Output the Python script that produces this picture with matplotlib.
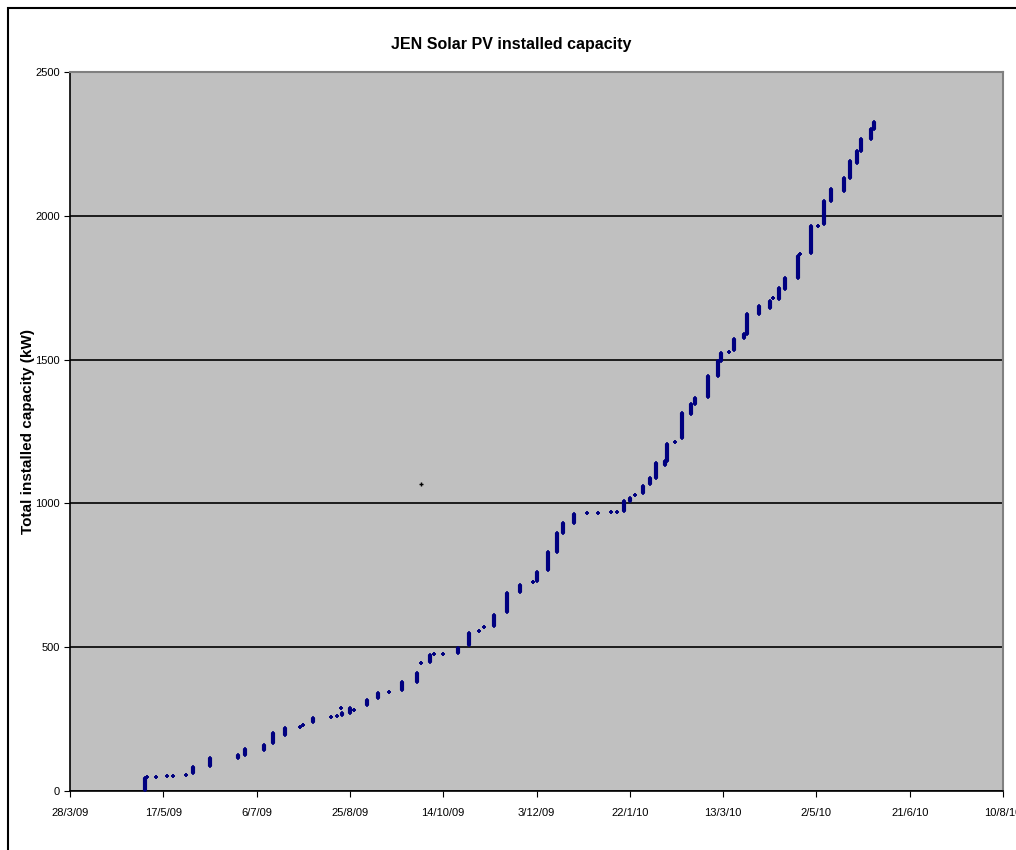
"""JEN Solar PV installed capacity - cumulative kW per installation date."""

import numpy as np
import pandas as pd
import matplotlib
matplotlib.use("Agg")
import matplotlib.pyplot as plt
from matplotlib.patches import Rectangle

# installation dates, with the low and high cumulative capacity (kW)
# reached on each date (several systems connected on the same day)
inst_dates = [
    "2009-05-07", "2009-05-08", "2009-05-13", "2009-05-19", "2009-05-22",
    "2009-05-29", "2009-06-02", "2009-06-11", "2009-06-26", "2009-06-30",
    "2009-07-10", "2009-07-15", "2009-07-21", "2009-07-29", "2009-07-31",
    "2009-08-05", "2009-08-15", "2009-08-18", "2009-08-20", "2009-08-21",
    "2009-08-25", "2009-08-27", "2009-09-03", "2009-09-09", "2009-09-15",
    "2009-09-22", "2009-09-30", "2009-10-02", "2009-10-07", "2009-10-09",
    "2009-10-14", "2009-10-22", "2009-10-28", "2009-11-02", "2009-11-05",
    "2009-11-10", "2009-11-17", "2009-11-24", "2009-12-01", "2009-12-03",
    "2009-12-09", "2009-12-14", "2009-12-17", "2009-12-23", "2009-12-30",
    "2010-01-05", "2010-01-12", "2010-01-15", "2010-01-19", "2010-01-22",
    "2010-01-25", "2010-01-29", "2010-02-02", "2010-02-05", "2010-02-10",
    "2010-02-11", "2010-02-15", "2010-02-19", "2010-02-24", "2010-02-26",
    "2010-03-05", "2010-03-10", "2010-03-12", "2010-03-16", "2010-03-19",
    "2010-03-24", "2010-03-26", "2010-04-01", "2010-04-07", "2010-04-09",
    "2010-04-12", "2010-04-15", "2010-04-22", "2010-04-23", "2010-04-29",
    "2010-05-03", "2010-05-06", "2010-05-10", "2010-05-17", "2010-05-20",
    "2010-05-24", "2010-05-26", "2010-05-31", "2010-06-02",
]
cap_low = [
    2, 48, 50, 52, 52, 55, 62, 87, 115, 125,
    142, 166, 194, 222, 229, 240, 257, 260, 288, 265,
    271, 281, 300, 323, 344, 351, 378, 444, 448, 475,
    475, 479, 507, 556, 569, 575, 621, 691, 726, 730,
    767, 830, 896, 931, 965, 965, 969, 969, 975, 1010,
    1028, 1035, 1066, 1090, 1132, 1149, 1212, 1226, 1312, 1347,
    1370, 1444, 1496, 1528, 1535, 1576, 1590, 1660, 1680, 1715,
    1712, 1746, 1785, 1868, 1871, 1965, 1972, 2052, 2087, 2132,
    2184, 2226, 2267, 2302,
]
cap_high = [
    45, 48, 50, 52, 52, 55, 83, 115, 125, 146,
    160, 200, 219, 222, 229, 255, 257, 260, 288, 271,
    288, 281, 316, 340, 344, 378, 410, 444, 472, 475,
    475, 496, 548, 556, 569, 611, 687, 715, 726, 760,
    830, 896, 931, 962, 965, 965, 969, 969, 1010, 1020,
    1028, 1062, 1087, 1139, 1149, 1208, 1212, 1316, 1347, 1368,
    1444, 1496, 1524, 1528, 1573, 1590, 1660, 1687, 1705, 1715,
    1750, 1785, 1861, 1868, 1965, 1965, 2052, 2094, 2132, 2191,
    2226, 2267, 2302, 2326,
]

# a stray point above the curve
stray_date = ["2009-10-02"]
stray_cap = [1066]

tick_dates = ["2009-03-28", "2009-05-17", "2009-07-06", "2009-08-25",
              "2009-10-14", "2009-12-03", "2010-01-22", "2010-03-13",
              "2010-05-02", "2010-06-21", "2010-08-10"]
tick_labels = ["28/3/09", "17/5/09", "6/7/09", "25/8/09", "14/10/09",
               "3/12/09", "22/1/10", "13/3/10", "2/5/10", "21/6/10",
               "10/8/10"]

plt.rcParams["font.family"] = ["Liberation Sans", "DejaVu Sans"]

d = pd.to_datetime(inst_dates)
ticks = pd.to_datetime(tick_dates)
navy = "#000080"

fig = plt.figure(figsize=(10.16, 8.5), dpi=100)
ax = fig.add_axes([70 / 1016, 59 / 850, 933 / 1016, 719 / 850])
ax.set_facecolor("#c0c0c0")

ax.vlines(d, cap_low, cap_high, color=navy, linewidth=3, zorder=3)
ax.scatter(d, cap_high, marker="+", s=12, color=navy, linewidths=1.2, zorder=4)
ax.scatter(d, cap_low, marker="+", s=12, color=navy, linewidths=1.2, zorder=4)
ax.scatter(pd.to_datetime(stray_date), stray_cap, marker="+", s=12,
           color="black", linewidths=1, zorder=4)

ax.set_xlim(ticks[0], ticks[-1])
ax.set_ylim(0, 2500)
ax.set_xticks(ticks)
ax.set_xticklabels(tick_labels, fontsize=8)
ax.set_yticks(np.arange(0, 2501, 500))
ax.tick_params(axis="y", labelsize=8, length=4, direction="out")
ax.tick_params(axis="x", length=4, direction="out", pad=8)
ax.yaxis.grid(True, color="black", linewidth=1.2)
ax.set_axisbelow(True)

for side in ("top", "right"):
    ax.spines[side].set_color("#808080")
    ax.spines[side].set_linewidth(1.5)
for side in ("left", "bottom"):
    ax.spines[side].set_linewidth(1.2)

ax.set_ylabel("Total installed capacity (kW)", fontsize=11, fontweight="bold")
ax.yaxis.set_label_coords(-0.037, 0.5)
fig.text(0.503, 1 - 45 / 850, "JEN Solar PV installed capacity",
         ha="center", va="center", fontsize=11.5, fontweight="bold")

# chart area border (cut off at the right and bottom)
fig.patches.append(Rectangle((8 / 1016, -0.1), 1.2, 1.1 - 8 / 850,
                             transform=fig.transFigure, fill=False,
                             edgecolor="black", linewidth=1.5))

fig.savefig("out.png", dpi=100)
